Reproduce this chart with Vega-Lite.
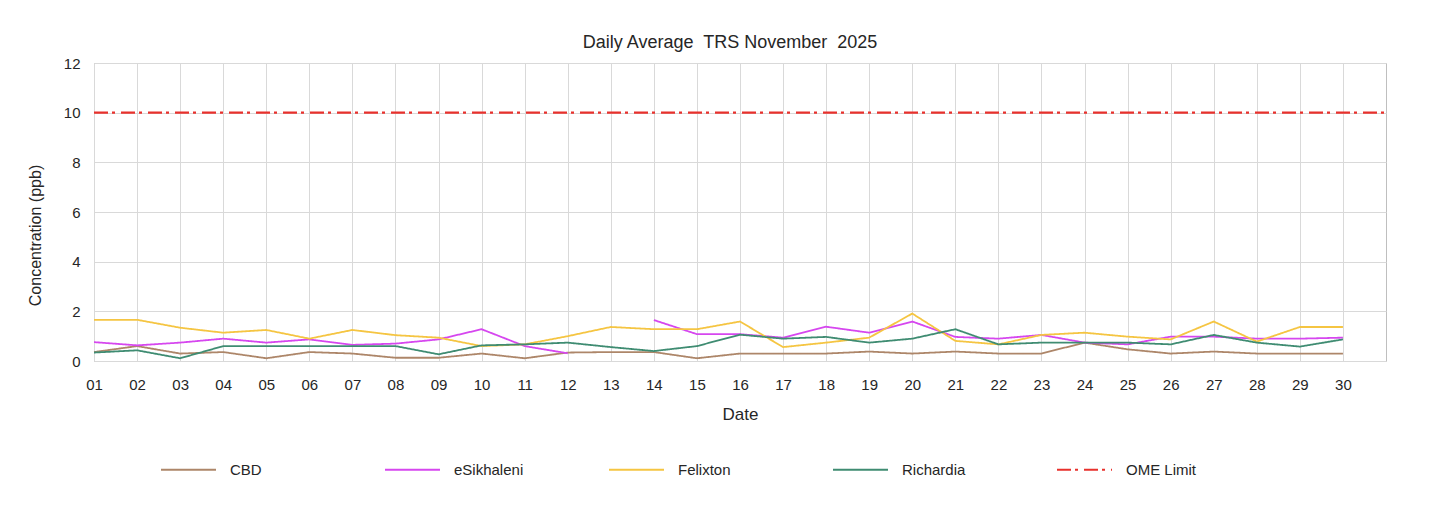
{
  "$schema": "https://vega.github.io/schema/vega-lite/v6.json",
  "autosize": {"type": "none"},
  "width": 1292,
  "height": 298,
  "padding": {"left": 94, "top": 63, "right": 63, "bottom": 145},
  "background": "white",
  "title": {
    "text": "Daily Average\u00a0 TRS November\u00a0 2025",
    "font": "Liberation Sans",
    "fontSize": 18,
    "fontWeight": "normal",
    "color": "#262626",
    "offset": 4,
    "dx": -10
  },
  "config": {
    "view": {"stroke": "#bfbfbf", "strokeWidth": 1},
    "axis": {
      "labelFont": "Liberation Sans",
      "titleFont": "Liberation Sans",
      "labelColor": "#262626",
      "titleColor": "#262626",
      "titleFontWeight": "normal",
      "gridColor": "#d9d9d9",
      "gridWidth": 1,
      "ticks": false,
      "domain": false
    },
    "legend": {
      "labelFont": "Liberation Sans",
      "labelColor": "#262626"
    }
  },
  "datasets": {
    "stations": [
      {"date": 1, "CBD": 0.36, "eSikhaleni": 0.76, "Felixton": 1.66, "Richardia": 0.34},
      {"date": 2, "CBD": 0.6, "eSikhaleni": 0.63, "Felixton": 1.66, "Richardia": 0.43},
      {"date": 3, "CBD": 0.3, "eSikhaleni": 0.74, "Felixton": 1.34, "Richardia": 0.11},
      {"date": 4, "CBD": 0.36, "eSikhaleni": 0.9, "Felixton": 1.14, "Richardia": 0.6},
      {"date": 5, "CBD": 0.11, "eSikhaleni": 0.74, "Felixton": 1.25, "Richardia": 0.6},
      {"date": 6, "CBD": 0.36, "eSikhaleni": 0.87, "Felixton": 0.9, "Richardia": 0.6},
      {"date": 7, "CBD": 0.3, "eSikhaleni": 0.65, "Felixton": 1.25, "Richardia": 0.6},
      {"date": 8, "CBD": 0.13, "eSikhaleni": 0.7, "Felixton": 1.04, "Richardia": 0.6},
      {"date": 9, "CBD": 0.13, "eSikhaleni": 0.87, "Felixton": 0.94, "Richardia": 0.27},
      {"date": 10, "CBD": 0.3, "eSikhaleni": 1.28, "Felixton": 0.6, "Richardia": 0.63},
      {"date": 11, "CBD": 0.11, "eSikhaleni": 0.6, "Felixton": 0.67, "Richardia": 0.67},
      {"date": 12, "CBD": 0.34, "eSikhaleni": 0.31, "Felixton": 1.0, "Richardia": 0.74},
      {"date": 13, "CBD": 0.36, "eSikhaleni": null, "Felixton": 1.37, "Richardia": 0.56},
      {"date": 14, "CBD": 0.36, "eSikhaleni": 1.65, "Felixton": 1.28, "Richardia": 0.4},
      {"date": 15, "CBD": 0.11, "eSikhaleni": 1.08, "Felixton": 1.28, "Richardia": 0.6},
      {"date": 16, "CBD": 0.3, "eSikhaleni": 1.08, "Felixton": 1.59, "Richardia": 1.06},
      {"date": 17, "CBD": 0.3, "eSikhaleni": 0.94, "Felixton": 0.56, "Richardia": 0.9},
      {"date": 18, "CBD": 0.3, "eSikhaleni": 1.38, "Felixton": 0.74, "Richardia": 0.97},
      {"date": 19, "CBD": 0.38, "eSikhaleni": 1.14, "Felixton": 0.94, "Richardia": 0.74},
      {"date": 20, "CBD": 0.3, "eSikhaleni": 1.59, "Felixton": 1.91, "Richardia": 0.9},
      {"date": 21, "CBD": 0.38, "eSikhaleni": 0.97, "Felixton": 0.81, "Richardia": 1.28},
      {"date": 22, "CBD": 0.3, "eSikhaleni": 0.9, "Felixton": 0.67, "Richardia": 0.67},
      {"date": 23, "CBD": 0.3, "eSikhaleni": 1.05, "Felixton": 1.05, "Richardia": 0.74},
      {"date": 24, "CBD": 0.74, "eSikhaleni": 0.74, "Felixton": 1.14, "Richardia": 0.74},
      {"date": 25, "CBD": 0.47, "eSikhaleni": 0.67, "Felixton": 0.98, "Richardia": 0.74},
      {"date": 26, "CBD": 0.3, "eSikhaleni": 0.98, "Felixton": 0.87, "Richardia": 0.67},
      {"date": 27, "CBD": 0.38, "eSikhaleni": 0.98, "Felixton": 1.59, "Richardia": 1.05},
      {"date": 28, "CBD": 0.3, "eSikhaleni": 0.9, "Felixton": 0.78, "Richardia": 0.74},
      {"date": 29, "CBD": 0.3, "eSikhaleni": 0.9, "Felixton": 1.37, "Richardia": 0.58},
      {"date": 30, "CBD": 0.3, "eSikhaleni": 0.94, "Felixton": 1.37, "Richardia": 0.87}
    ],
    "limit": [
      {"date": 1, "series": "OME Limit", "value": 10},
      {"date": 31, "series": "OME Limit", "value": 10}
    ]
  },
  "encoding": {
    "x": {
      "field": "date",
      "type": "quantitative",
      "scale": {"domain": [1, 31], "nice": false, "zero": false},
      "axis": {
        "values": [1,2,3,4,5,6,7,8,9,10,11,12,13,14,15,16,17,18,19,20,21,22,23,24,25,26,27,28,29,30],
        "labelExpr": "datum.value < 10 ? '0' + datum.value : '' + datum.value",
        "title": "Date",
        "labelFontSize": 15,
        "labelPadding": 16,
        "titleFontSize": 17,
        "titlePadding": 14,
        "labelFlush": false,
        "labelOverlap": false
      }
    },
    "y": {
      "field": "value",
      "type": "quantitative",
      "scale": {"domain": [0, 12], "nice": false},
      "axis": {
        "values": [0, 2, 4, 6, 8, 10, 12],
        "title": "Concentration (ppb)",
        "labelFontSize": 15,
        "labelPadding": 14,
        "titleFontSize": 16,
        "titleX": -51,
        "titleY": 172
      }
    },
    "color": {
      "field": "series",
      "type": "nominal",
      "scale": {
        "domain": ["CBD", "eSikhaleni", "Felixton", "Richardia", "OME Limit"],
        "range": ["#ad8669", "#d647ef", "#f5c542", "#3f8c72", "#e8312c"]
      },
      "legend": {
        "title": null,
        "orient": "none",
        "legendX": 66,
        "legendY": 378,
        "direction": "horizontal",
        "symbolType": "stroke",
        "symbolSize": 3025,
        "symbolStrokeWidth": 2,
        "labelFontSize": 15,
        "labelOffset": 13,
        "gridAlign": "all",
        "columnPadding": 80,
        "padding": 0
      }
    },
    "strokeDash": {
      "field": "series",
      "type": "nominal",
      "scale": {
        "domain": ["CBD", "eSikhaleni", "Felixton", "Richardia", "OME Limit"],
        "range": [[1, 0], [1, 0], [1, 0], [1, 0], [14, 4, 3, 6]]
      },
      "legend": {
        "title": null,
        "orient": "none",
        "legendX": 66,
        "legendY": 378,
        "direction": "horizontal",
        "symbolType": "stroke",
        "symbolSize": 3025,
        "symbolStrokeWidth": 2,
        "labelFontSize": 15,
        "labelOffset": 13,
        "gridAlign": "all",
        "columnPadding": 80,
        "padding": 0
      }
    }
  },
  "layer": [
    {
      "data": {"name": "stations"},
      "transform": [
        {"fold": ["CBD", "eSikhaleni", "Felixton", "Richardia"], "as": ["series", "value"]}
      ],
      "mark": {"type": "line", "strokeWidth": 1.8, "invalid": "break-paths-show-domains"}
    },
    {
      "data": {"name": "limit"},
      "mark": {"type": "line", "strokeWidth": 2.2}
    }
  ]
}
